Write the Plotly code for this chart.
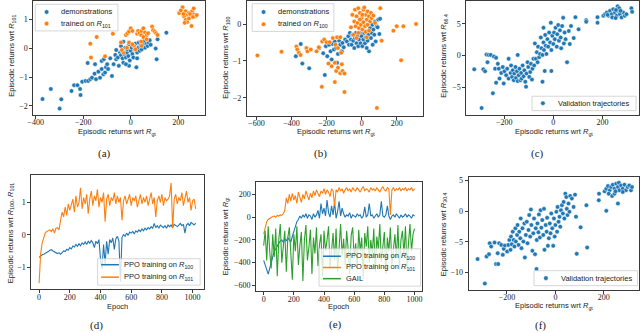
import plotly.graph_objects as go

BLUE = "#1f77b4"
ORANGE = "#ff7f0e"
GREEN = "#2ca02c"

# (a) returns wrt R_gt vs R_101
a_demo_x = [-371, -336, -292, -299, -249, -238, -224, -211, -213, -204, -190, -179, -170, -163, -152, -146,
            -136, -129, -122, -115, -108, -104, -99, -181, -150, -122, -113, -79, -72, -65, -61, -54, -50,
            -45, -41, -37, -34, -31, -27, -23, -20, -16, -14, -10, -7, -4, 0, 4, 7, 11, 14, 18, 20, 24, 27,
            31, 34, 38, 41, 44, 46, 53, 57, 60, 67, 71, 76, 80, 84, 105, 109, 113, 150, -41, -31, -61, -86,
            -95, 27, -7, -20]
a_demo_y = [-1.76, -1.41, -1.77, -2.09, -1.48, -1.28, -1.28, -1.62, -1.41, -1.16, -1.13, -1.13, -1.07, -1.02,
            -0.88, -1.07, -0.81, -1.02, -0.72, -0.90, -0.84, -0.66, -0.55, -0.51, -0.55, -0.44, -0.38, -0.96,
            -0.55, -0.23, -0.38, -0.32, -0.61, -0.15, -0.24, -0.09, -0.35, -0.50, -0.20, 0.02, -0.32, -0.15,
            -0.04, -0.27, 0.14, -0.42, -0.09, 0.02, -0.20, -0.32, 0.08, -0.04, 0.16, -0.66, -0.15, 0.02, 0.20,
            -0.09, 0.08, 0.23, -0.04, 0.14, 0.25, 0.02, 0.16, 0.08, 0.20, 0.28, 0.12, -0.01, -0.38, 0.31, 0.54,
            0.08, 0.23, -0.06, -0.35, -0.72, -0.35, -0.61, -0.55]
a_trained_x = [-75, -170, -167, -108, -31, -41, -20, -14, -7, 0, 7, 14, 20, 27, 31, 37, 44, 46, 53, 60, 67, 73,
               90, 94, 101, 107, 113, 44, 46, 67, 53, -7, 7, -37, -16, -143, 218, 231, 238, 245, 252, 258, 265,
               272, 224, 231, 238, 245, 256, 227, 204, 211, 222, 249, 262, 278, 265]
a_trained_y = [0.50, 0.16, -0.32, -0.28, -0.15, 0.20, 0.46, 0.52, 0.58, 0.69, 0.60, 0.08, -0.04, 0.50, 0.60,
               0.52, 0.46, 0.60, 0.69, 0.55, 0.46, 0.52, 0.75, 0.63, 0.58, 0.52, 0.46, 0.23, 0.08, 0.31, 0.39,
               0.20, 0.14, -0.06, 0.02, 0.39, 1.42, 1.28, 1.17, 1.22, 1.11, 1.28, 1.17, 1.11, 1.11, 0.99, 0.91,
               1.03, 0.77, 0.88, 1.22, 1.31, 1.19, 1.19, 1.08, 1.15, 1.38]

# (b) returns wrt R_gt vs R_100
b_demo_x = [-375, -347, -338, -299, -242, -219, -210, -204, -196, -186, -177, -171, -164, -158, -153, -145,
            -140, -135, -128, -122, -113, -109, -102, -94, -84, -76, -72, -67, -61, -57, -53, -48, -42, -38,
            -33, -29, -23, -19, -15, -10, -6, 0, 4, 10, 15, 19, 23, 29, 34, 38, 42, 48, 53, 57, 61, 67, 72,
            76, 86, 95, 105, 101, 91, 80, 63, 29]
b_demo_y = [-0.87, -0.54, -1.07, -1.20, -0.65, -0.79, -1.38, -0.60, -0.87, -0.56, -0.74, -0.96, -0.54, -0.69,
            -0.47, -0.65, -1.05, -0.81, -0.45, -0.56, -0.74, -0.51, -0.63, -0.42, -0.47, -0.33, -0.56, -0.24,
            -0.42, -0.56, -0.29, -0.45, -0.65, -0.38, -0.24, -0.52, -0.33, -0.60, -0.42, -0.24, -0.52, -0.33,
            -0.60, -0.42, -0.24, -0.52, -0.36, -0.20, -0.45, -0.29, -0.74, -0.11, -0.38, -0.24, -0.02, -0.15,
            -0.29, 0.07, -0.06, 0.12, 0.14, -0.27, -0.09, -0.47, -0.56, -0.65]
b_trained_x = [-594, -457, -372, -367, -358, -348, -315, -309, -290, -257, -244, -225, -213, -200, -227, -189,
               -171, -153, -145, -135, -122, -113, -109, -98, -153, -98, -164, -140, -122, -182, -149, -135,
               -117, -53, -38, -29, -19, -10, 0, 10, 15, 23, 29, 34, 42, 48, 53, 57, 67, 76, -42, -34, -23,
               -15, -4, 4, 10, 19, 23, 34, 42, -19, -10, 4, -61, -48, -29, 29, 106, 114, 181, 200, 238, 310,
               225, 87]
b_trained_y = [-0.85, -0.75, -0.61, -0.69, -0.78, -0.84, -0.65, -0.74, -0.69, -0.74, -0.63, -0.47, -0.42,
               -0.49, -1.70, -1.07, -1.14, -1.05, -1.27, -1.18, -1.33, -1.09, -1.27, -1.34, -1.57, -1.84, -0.38,
               -0.36, -0.36, -0.49, -0.56, -0.65, -0.78, 0.25, 0.39, 0.21, 0.43, 0.30, 0.16, 0.39, 0.45, 0.25,
               0.12, 0.34, 0.21, 0.07, 0.30, 0.16, 0.23, 0.03, 0.07, -0.06, 0.03, -0.11, -0.02, -0.15, 0.05,
               -0.06, -0.21, -0.02, -0.18, -0.24, 0.12, 0.25, -0.09, -0.29, -0.38, -0.36, 0.43, -0.45, -0.18,
               -0.06, -0.06, 0.00, -0.98, -2.27]

# (c) validation trajectories
c_x = [-322, -292, -285, -278, -272, -268, -263, -255, -246, -242, -237, -233, -233, -226, -222, -219, -212,
       -206, -202, -199, -192, -188, -182, -182, -174, -172, -168, -165, -161, -159, -154, -152, -148, -145,
       -145, -141, -138, -134, -131, -129, -125, -121, -118, -114, -111, -109, -105, -102, -98, -94, -91, -87,
       -85, -81, -78, -75, -71, -67, -64, -62, -58, -54, -51, -48, -44, -44, -40, -40, -38, -35, -33, -31,
       -28, -24, -21, -17, -13, -10, -8, -8, -4, 0, 3, 6, 9, 14, 16, 20, 23, 27, 30, 32, 36, 40, 43, 46, 50,
       56, 63, 67, 72, 83, 90, 103, 134, 134, 180, 180, 204, 211, 218, 224, 231, 238, 244, 251, 258, 262,
       264, 271, 278, 285, 291, 298, 240, 254, 268, 318, 321, 221, 255, 274]
c_y = [-2.17, -8.25, -2.17, -2.48, 0.15, -1.05, 0.10, 0.10, -5.93, -0.16, -2.07, -0.36, -4.28, -1.30, -2.07,
       -3.62, -2.74, -1.81, -4.38, -2.48, -3.10, -2.07, -0.52, -3.62, -2.74, -1.55, -3.36, -2.33, -3.88, -2.84,
       -1.81, -3.52, -2.48, 0.10, -4.02, -3.10, -2.07, -3.88, -2.74, -3.62, -1.55, -3.26, -2.33, -4.12, -4.90,
       -2.84, -1.05, -1.81, -3.36, -2.59, -1.30, -3.78, -2.07, -0.52, -1.55, 1.91, -0.52, 0.51, -1.05, 1.40,
       -0.26, 0.25, 2.84, 1.14, 0.10, -4.12, 2.07, 4.38, 0.87, -2.43, 3.25, 1.55, 0.25, 2.58, 1.40, 3.61, 2.07,
       5.16, 0.87, -2.43, 3.10, 1.81, 3.61, 2.58, 4.38, 1.40, 3.35, 4.80, 2.33, 3.96, 2.84, 1.14, 4.64, 5.93,
       1.91, 3.61, 2.58, -1.05, 3.86, 1.81, 4.64, 2.74, 6.04, 4.12, 5.57, 5.31, 6.04, 5.16, 6.25, 6.51, 6.77,
       6.25, 7.03, 6.51, 7.29, 6.77, 6.25, 7.74, 7.03, 6.51, 6.00, 6.77, 6.25, 6.51, 6.00, 5.90, 7.45, 7.45,
       6.88, 6.40, 7.16, 7.03]

# (f) validation trajectories
f_x = [-321, -291, -284, -274, -271, -265, -245, -236, -251, -238, -232, -223, -217, -213, -208, -199, -194,
       -190, -185, -183, -180, -176, -172, -169, -165, -163, -158, -156, -152, -149, -145, -143, -140, -136,
       -132, -128, -126, -122, -118, -115, -111, -108, -104, -101, -99, -95, -91, -88, -84, -81, -78, -77,
       -74, -70, -68, -64, -61, -58, -54, -50, -47, -45, -40, -36, -34, -31, -27, -23, -20, -17, -13, -9, -6,
       -3, 0, 4, 7, 9, 13, 17, 20, 23, 27, 31, 34, 37, 41, 45, 47, 50, 54, 58, 61, 68, 75, 81, 85, 88, 104,
       128, 131, 179, 180, 210, 203, 210, 217, 224, 230, 237, 244, 251, 258, 262, 264, 271, 278, 285, 291,
       298, 305, 312, 316, 258, 234, 220, 278, 244, 248]
f_y = [-7.82, -11.81, -7.39, -7.01, -5.23, -5.77, -8.63, -8.63, -5.12, -6.85, -5.23, -5.50, -7.12, -6.15,
       -5.61, -6.58, -5.50, -4.69, -6.31, -4.15, -5.39, -3.34, -4.69, -5.77, -2.80, -4.96, -3.88, -2.26, -5.50,
       -3.34, -4.42, -1.19, -6.04, -2.80, -4.96, -1.99, -7.55, -3.88, -1.72, -5.23, -3.07, -0.64, -4.15, 0.27,
       -2.26, -6.47, -3.61, -1.19, -7.01, -2.80, -9.44, -4.69, -1.99, -3.45, -0.53, -4.31, 0.16, -2.69, -1.45,
       -3.88, 0.38, -6.31, -2.26, -3.34, -1.08, -5.66, -4.42, -1.99, -3.61, -0.37, -2.80, -5.66, -1.19, -4.15,
       -2.26, -0.10, -3.34, 0.70, -1.72, -0.91, -2.53, 0.16, 0.97, -0.37, 1.51, -1.19, 2.86, 2.32, 0.38, -0.64,
       1.24, -0.10, 2.48, 2.05, 0.70, 2.70, -0.91, -6.96, -2.64, 0.97, -5.93, 1.78, 2.86, 0.05, 3.24, 3.67,
       4.10, 3.40, 3.94, 4.32, 3.67, 4.48, 3.94, 4.64, 3.40, 4.21, 3.67, 4.32, 3.40, 3.94, 4.21, 3.40, 3.94,
       1.24, 2.48, 2.86, 3.13, 2.86, 3.24]

# training curves, one value every 10 epochs
epochs = list(range(0, 1021, 10))
d_r100 = [-0.70, -0.65, -0.62, -0.60, -0.58, -0.55, -0.52, -0.48, -0.46, -0.50,
          -0.52, -0.55, -0.58, -0.56, -0.60, -0.55, -0.50, -0.52, -0.45, -0.48,
          -0.40, -0.44, -0.35, -0.38, -0.30, -0.36, -0.28, -0.34, -0.25, -0.30,
          -0.22, -0.30, -0.20, -0.26, -0.18, -0.25, -0.40, -0.20, -0.28, -0.15,
          -0.75, -1.05, -0.30, -0.90, -0.20, -0.60, -0.15, -0.25, -0.10, -0.45,
          -0.12, -0.05, -0.20, -1.45, -0.08, 0.00, -0.05, 0.05, -0.02, 0.08,
          0.05, 0.10, 0.02, 0.12, 0.08, 0.15, 0.10, 0.18, 0.12, 0.20,
          0.15, 0.22, 0.18, 0.25, 0.20, 0.35, 0.22, 0.28, 0.20, 0.30,
          0.25, 0.22, 0.28, 0.20, 0.30, 0.25, 0.30, 0.22, 0.32, 0.28,
          0.25, 0.30, 0.35, 0.28, 0.32, 0.05, 0.30, 0.35, 0.28, 0.38,
          0.35, 0.30, 0.36]
d_r101 = [-1.50, -0.60, -0.25, -0.05, 0.05, 0.10, 0.12, 0.15, 0.10, 0.18,
          0.05, 0.20, 0.22, 0.15, 0.45, 0.70, 0.55, 0.85, 0.60, 0.95,
          0.75, 0.90, 1.10, 0.70, 1.20, 0.85, 1.00, 1.45, 0.80, 1.15,
          0.95, 1.25, 0.65, 1.10, 1.35, 0.90, 1.20, 1.05, 1.40, 0.85,
          1.15, 1.00, 1.30, 0.40, 1.10, 1.25, 0.90, 1.15, 1.05, 1.30,
          0.95, 1.20, 1.00, 1.15, 0.45, 1.05, 1.20, 0.95, 1.10, 1.25,
          0.90, 1.15, 1.05, 1.20, 0.85, 1.10, 1.25, 0.95, 1.15, 1.00,
          1.20, 0.90, 1.10, 1.30, 0.95, 1.15, 0.55, 1.05, 1.20, 1.00,
          1.25, 0.90, 1.15, 1.05, 1.10, 1.20, 1.60, 0.20, 1.10, 1.25,
          0.95, 1.15, 1.05, 1.30, 0.90, 1.10, 1.35, 1.00, 1.15, 0.75,
          1.05, 1.10, 0.80]
e_r100 = [-380, -420, -470, -500, -450, -400, -350, -300, -280, -250,
          -230, -210, -200, -220, -190, -210, -180, -200, -220, -170,
          -120, -80, -40, -20, 10, -10, 20, 0, 30, -10,
          20, 10, -20, 30, 0, 20, 60, -10, 120, 30,
          80, 10, 150, 40, 0, 100, 20, 130, -10, 50,
          140, 10, 80, 30, 0, 20, 10, 40, -10, 20,
          10, 0, 30, 10, 20, -10, 10, 90, 0, 20,
          120, 10, 20, -10, 10, 30, 0, 20, 140, 10,
          0, 20, 100, 10, -20, 10, 20, 0, 30, 10,
          -10, 20, 0, 10, 30, 0, 20, 10, -10, 20,
          10]
e_r101 = [-150, -80, -40, -20, -10, 0, 5, 10, 0, 15,
          10, 20, 15, 30, 60, 170, 120, 200, 140, 210,
          150, 190, 120, 220, 170, 130, 200, 160, 230, 180,
          150, 210, 170, 230, 190, 240, 200, 180, 230, 210,
          250, 200, 240, 220, 180, 250, 230, 100, 240, 220,
          260, 230, 250, 210, 240, 260, 230, 250, 220, 260,
          240, 230, 260, 240, 220, 250, 270, 230, 250, 240,
          220, 260, 240, 250, 230, 260, 240, 220, 250, 270,
          240, 230, 260, 250, 20, 240, 260, 230, 250, 240,
          260, 230, 250, 240, 260, 230, 250, 240, 260, 230,
          250]
e_gail = [-250, -120, -380, -80, -300, -450, -150, -350, -100, -520,
          -200, -60, -400, -280, -120, -480, -180, -90, -350, -550,
          -150, -300, -80, -420, -250, -130, -560, -200, -70, -380,
          -260, -110, -500, -180, -320, -90, -430, -240, -150, -520,
          -120, -300, -200, -80, -450, -260, -140, -380, -100, -480,
          -220, -60, -340, -190, -420, -120, -280, -500, -160, -90,
          -360, -230, -450, -110, -300, -180, -540, -140, -260, -80,
          -400, -200, -320, -100, -480, -170, -280, -60, -390, -220,
          -130, -500, -180, -300, -90, -420, -250, -150, -360, -70,
          -460, -200, -120, -330, -80, -440, -230, -60, -300, -150,
          -100]

W, H = 640, 333
TICK_FONT = dict(family="Liberation Serif", size=8, color="#222")
LAB_FONT = dict(family="Liberation Sans", size=7.5, color="#222")
RGT = "Episodic returns wrt <i>R</i><sub>gt</sub>"

fig = go.Figure()


def dots(x, y, color, name, n):
    s = "" if n == 1 else str(n)
    fig.add_trace(go.Scatter(
        x=x, y=y, mode="markers", name=name,
        marker=dict(color=color, size=4.5, line=dict(color="white", width=0.5)),
        xaxis="x" + s, yaxis="y" + s, showlegend=False,
    ))


def curve(y, color, name, n):
    fig.add_trace(go.Scatter(
        x=epochs[:len(y)], y=y, mode="lines", name=name,
        line=dict(color=color, width=1.1),
        xaxis="x" + str(n), yaxis="y" + str(n), showlegend=False,
    ))


dots(a_demo_x, a_demo_y, BLUE, "demonstrations", 1)
dots(a_trained_x, a_trained_y, ORANGE, "trained on R101", 1)
dots(b_demo_x, b_demo_y, BLUE, "demonstrations", 2)
dots(b_trained_x, b_trained_y, ORANGE, "trained on R100", 2)
dots(c_x, c_y, BLUE, "Validation trajectories", 3)
curve(d_r100, BLUE, "PPO training on R100", 4)
curve(d_r101, ORANGE, "PPO training on R101", 4)
curve(e_r100, BLUE, "PPO training on R100", 5)
curve(e_r101, ORANGE, "PPO training on R101", 5)
curve(e_gail, GREEN, "GAIL", 5)
dots(f_x, f_y, BLUE, "Validation trajectories", 6)


def px(a, b):
    return [a / W, b / W]


def py(top, bottom):
    return [1 - bottom / H, 1 - top / H]


panels = {
    1: dict(x=px(27.5, 201), y=py(0.5, 114), xr=[-410, 313], yr=[-2.3, 1.62],
            xt=[-400, -200, 0, 200], yt=[-2, -1, 0, 1]),
    2: dict(x=px(243, 421), y=py(0.5, 115), xr=[-655, 350], yr=[-2.48, 0.61],
            xt=[-600, -400, -200, 0, 200], yt=[-2, -1, 0]),
    3: dict(x=px(464.5, 639), y=py(0.5, 114), xr=[-355, 349], yr=[-9.3, 8.5],
            xt=[-200, 0, 200], yt=[-5, 0, 5]),
    4: dict(x=px(25.5, 200), y=py(175, 289), xr=[-51, 1075], yr=[-1.68, 1.83],
            xt=[0, 200, 400, 600, 800, 1000], yt=[-1, 0, 1]),
    5: dict(x=px(252.5, 420), y=py(182, 291), xr=[-50, 1050], yr=[-650, 305],
            xt=[0, 200, 400, 600, 800, 1000], yt=[-600, -400, -200, 0, 200]),
    6: dict(x=px(467, 639), y=py(177, 289.5), xr=[-358, 345], yr=[-12.8, 5.5],
            xt=[-200, 0, 200], yt=[-10, -5, 0, 5]),
}

axis_style = dict(showgrid=False, zeroline=False, showline=True, mirror=True, linecolor="#3a3a3a",
                  linewidth=0.8, ticks="outside", ticklen=3, tickwidth=0.8, tickcolor="#3a3a3a",
                  tickfont=TICK_FONT)
layout = {}
for n, p in panels.items():
    s = "" if n == 1 else str(n)
    layout["xaxis" + s] = dict(domain=p["x"], range=p["xr"], tickvals=p["xt"], anchor="y" + s,
                               ticklabelstandoff=-3, **axis_style)
    layout["yaxis" + s] = dict(domain=p["y"], range=p["yr"], tickvals=p["yt"], anchor="x" + s, **axis_style)

# matplotlib-style legends drawn in pixel positions of the page
shapes = []
annotations = []


def fx(v):
    return v / W


def fy(v):
    return 1 - v / H


def leg_box(x0, y0, x1, y1):
    shapes.append(dict(type="rect", xref="paper", yref="paper", x0=fx(x0), x1=fx(x1), y0=fy(y1), y1=fy(y0),
                       fillcolor="rgba(255,255,255,0.8)", line=dict(color="#cccccc", width=0.8), layer="above"))


def leg_dot(cx, cy, color):
    r = 2.3
    shapes.append(dict(type="circle", xref="paper", yref="paper", x0=fx(cx - r), x1=fx(cx + r),
                       y0=fy(cy + r), y1=fy(cy - r), fillcolor=color,
                       line=dict(color="white", width=0.5), layer="above"))


def leg_line(x0, x1, y, color):
    shapes.append(dict(type="line", xref="paper", yref="paper", x0=fx(x0), x1=fx(x1), y0=fy(y), y1=fy(y),
                       line=dict(color=color, width=1.5), layer="above"))


def leg_text(x, y, t):
    annotations.append(dict(x=fx(x), y=fy(y), xref="paper", yref="paper", text=t, showarrow=False,
                            font=LAB_FONT, xanchor="left", yanchor="middle"))


leg_box(29.5, 3.3, 113, 30)
leg_dot(41, 11, BLUE)
leg_text(54, 11, "demonstrations")
leg_dot(41, 22.7, ORANGE)
leg_text(54, 22.7, "trained on <i>R</i><sub>101</sub>")

leg_box(248.5, 2.7, 331, 30.5)
leg_dot(260, 11, BLUE)
leg_text(273, 11, "demonstrations")
leg_dot(260, 23.3, ORANGE)
leg_text(273, 23.3, "trained on <i>R</i><sub>100</sub>")

leg_box(531, 95.5, 636, 110)
leg_dot(542, 102.5, BLUE)
leg_text(555, 102.5, "Validation trajectories")

leg_box(92.5, 258.5, 196, 285)
leg_line(96, 114, 264.5, BLUE)
leg_text(117, 264.5, "PPO training on <i>R</i><sub>100</sub>")
leg_line(96, 114, 277, ORANGE)
leg_text(117, 277, "PPO training on <i>R</i><sub>101</sub>")

leg_box(316, 248.5, 418.5, 286)
leg_line(320, 338, 256, BLUE)
leg_text(341, 256, "PPO training on <i>R</i><sub>100</sub>")
leg_line(320, 338, 267.3, ORANGE)
leg_text(341, 267.3, "PPO training on <i>R</i><sub>101</sub>")
leg_line(320, 338, 278.5, GREEN)
leg_text(341, 278.5, "GAIL")

leg_box(533, 270.5, 637.5, 285.5)
leg_dot(545, 278, BLUE)
leg_text(558, 278, "Validation trajectories")

notes = [
    (112, 131, RGT, 0),
    (333, 131, RGT, 0),
    (553, 131, RGT, 0),
    (113, 306, "Epoch", 0),
    (336, 306, "Epoch", 0),
    (553, 306, RGT, 0),
    (6, 55, "Episodic returns wrt <i>R</i><sub>101</sub>", -90),
    (222, 57, "Episodic returns wrt <i>R</i><sub>100</sub>", -90),
    (442, 55, "Episodic returns wrt <i>R</i><sub>66.4</sub>", -90),
    (5, 232, "Episodic returns wrt <i>R</i><sub>100</sub>, <i>R</i><sub>101</sub>", -90),
    (222, 236, RGT, -90),
    (442, 234, "Episodic returns wrt <i>R</i><sub>30.4</sub>", -90),
]
caps = [(99, 153, "(a)"), (317, 153, "(b)"), (537, 153, "(c)"),
        (91, 325, "(d)"), (333, 324, "(e)"), (540, 325, "(f)")]
for x, y, t, ang in notes:
    annotations.append(dict(x=fx(x), y=fy(y), xref="paper", yref="paper", text=t, showarrow=False,
                            textangle=ang, font=LAB_FONT, xanchor="center", yanchor="middle"))
for x, y, t in caps:
    annotations.append(dict(x=fx(x), y=fy(y), xref="paper", yref="paper", text=t, showarrow=False,
                            font=dict(family="Liberation Serif", size=11, color="#222"),
                            xanchor="center", yanchor="middle"))

fig.update_layout(
    width=W, height=H, margin=dict(l=0, r=0, t=0, b=0),
    paper_bgcolor="white", plot_bgcolor="white", showlegend=False,
    shapes=shapes, annotations=annotations, **layout,
)

# the page's default body margin would push the 640x333 figure off the window
fig.write_html("out.html", config={"displayModeBar": False},
               post_script="document.body.style.margin='0';")
